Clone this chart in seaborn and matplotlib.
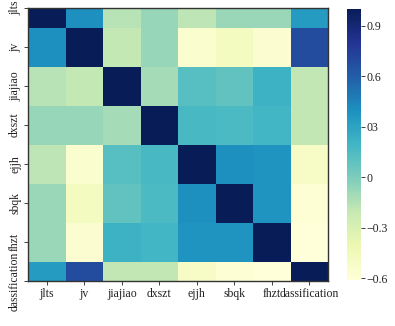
import numpy as np
import pandas as pd
import seaborn as sns
import matplotlib
matplotlib.use("Agg")
import matplotlib.pyplot as plt

plt.rcParams['font.family'] = ['Liberation Serif', 'DejaVu Serif']

labels = ["jlts", "jv", "jiajiao", "dxszt", "ejjh", "sbqk", "fhzt", "dassification"]

row_jlts    = [1.00, 0.40, -0.16, -0.07, -0.18, -0.08, -0.08, 0.34]
row_jv      = [0.40, 1.00, -0.20, -0.07, -0.55, -0.48, -0.56, 0.68]
row_jiajiao = [-0.16, -0.20, 1.00, -0.11, 0.12, 0.09, 0.22, -0.19]
row_dxszt   = [-0.07, -0.07, -0.11, 1.00, 0.17, 0.16, 0.19, -0.19]
row_ejjh    = [-0.18, -0.55, 0.12, 0.17, 1.00, 0.40, 0.38, -0.52]
row_sbqk    = [-0.08, -0.48, 0.09, 0.16, 0.40, 1.00, 0.38, -0.58]
row_fhzt    = [-0.08, -0.56, 0.22, 0.19, 0.38, 0.38, 1.00, -0.61]
row_dass    = [0.34, 0.68, -0.19, -0.19, -0.52, -0.58, -0.61, 1.00]

cbar_ticks = [0.9, 0.6, 0.3, 0.0, -0.3, -0.6]
cbar_ticklabels = ["0.9", "0.6", "03", "0", "\u22120.3", "\u22120.6"]

corr = pd.DataFrame([row_jlts, row_jv, row_jiajiao, row_dxszt,
                     row_ejjh, row_sbqk, row_fhzt, row_dass],
                    index=labels, columns=labels)

fig = plt.figure(figsize=(3.95, 3.26), dpi=100)
W, H = 395, 326
ax = fig.add_axes([28 / W, (H - 281) / H, 300 / W, 273 / H])
cax = fig.add_axes([347 / W, (H - 280) / H, 14 / W, 271 / H])

sns.heatmap(corr, ax=ax, cbar_ax=cax, cmap="YlGnBu", square=False)

# top and bottom rows appear half-clipped in the reference
n = len(labels)
ax.set_ylim(n - 0.5, 0.5)

ax.set_xticklabels(labels, rotation=0, fontsize=8.5)
ax.set_yticklabels(labels, rotation=90, va="center", fontsize=8.5)
ax.tick_params(axis="both", length=3, width=0.6, pad=2, colors="#222222")
for s in ax.spines.values():
    s.set_visible(True)
    s.set_linewidth(1.0)
    s.set_color("#333333")

cb = ax.collections[0].colorbar
cb.set_ticks(cbar_ticks)
cb.set_ticklabels(cbar_ticklabels)
cb.ax.tick_params(labelsize=8.5, length=3, width=0.6, pad=1, colors="#222222")
cb.outline.set_visible(False)

fig.savefig("out.png", dpi=100)
